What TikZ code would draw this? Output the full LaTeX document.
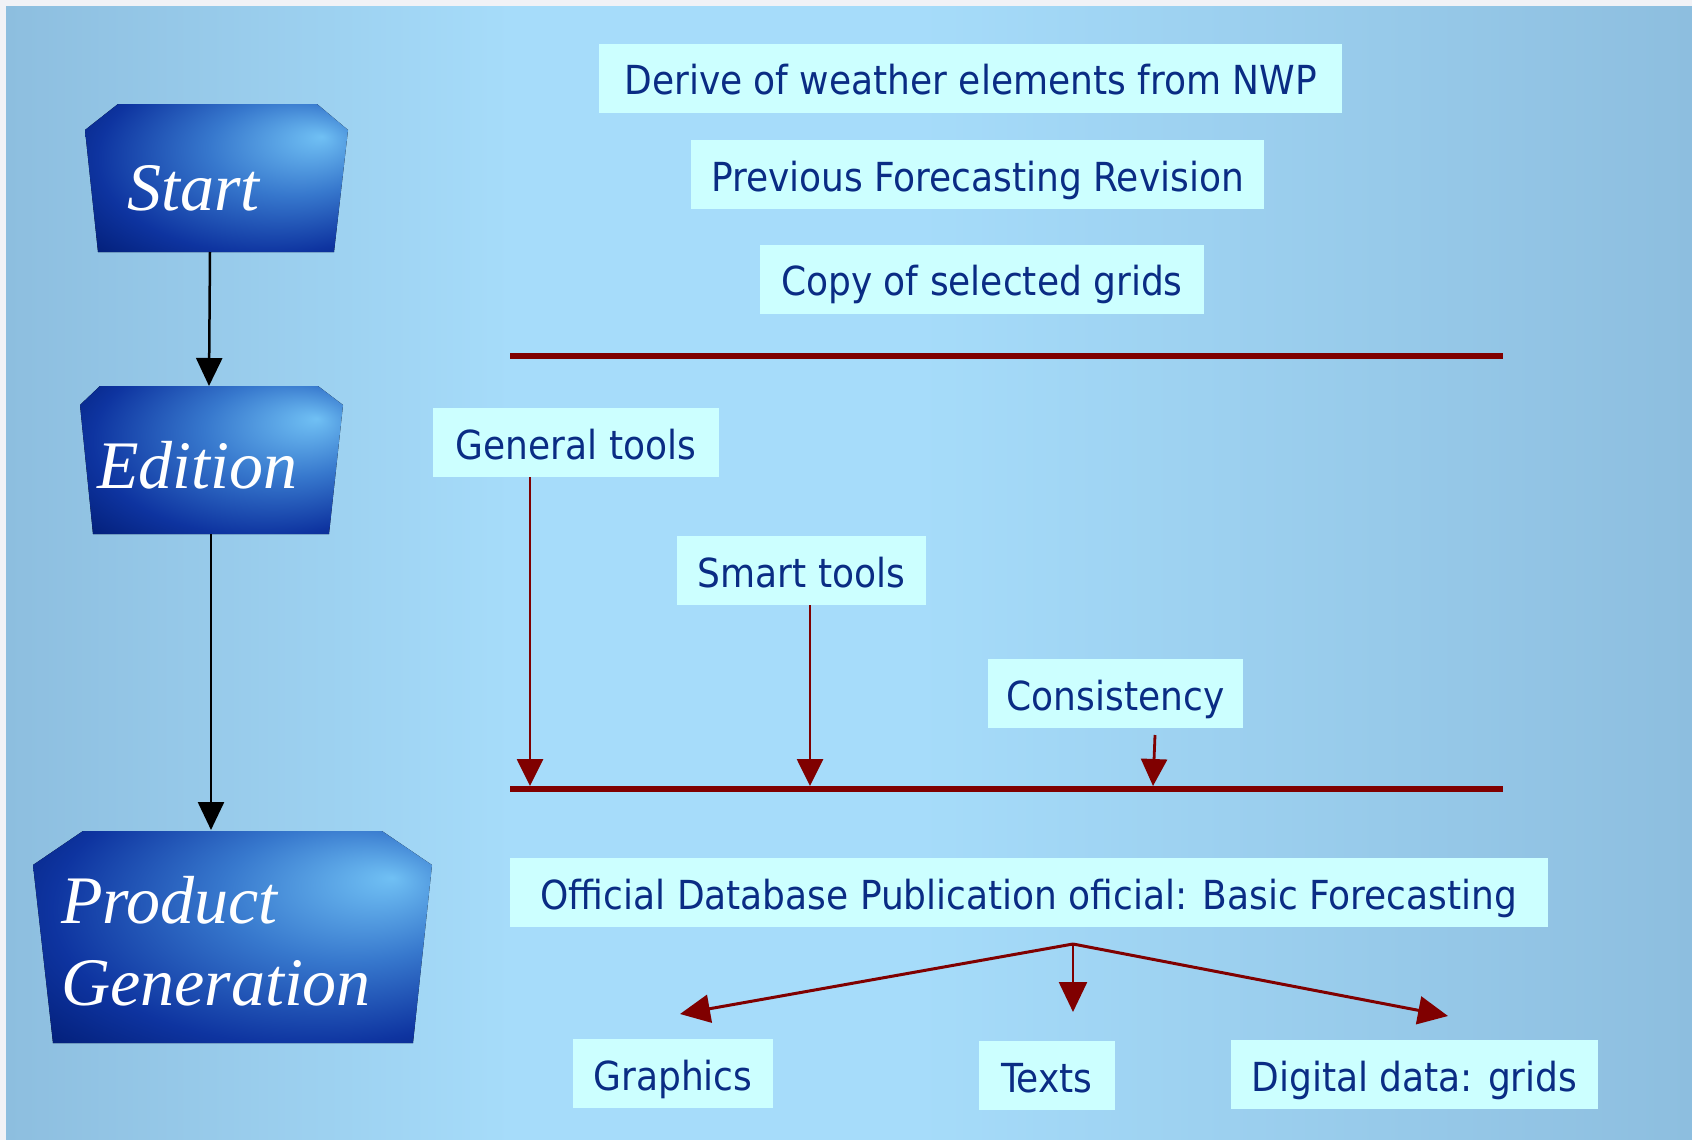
\documentclass[tikz,border=0pt]{standalone}
\usepackage{fontspec}
\setmainfont{Liberation Serif}
\newfontfamily\boxfont{DejaVu Sans Condensed}
\usetikzlibrary{arrows.meta}

\definecolor{bgedge}{RGB}{141,190,223}
\definecolor{bgmid}{RGB}{166,220,250}
\definecolor{stripgray}{RGB}{241,242,246}
\definecolor{boxcyan}{RGB}{204,255,255}
\definecolor{navytext}{RGB}{10,44,132}
\definecolor{barred}{RGB}{128,0,0}
\definecolor{glowhi}{RGB}{112,192,244}
\definecolor{glowmid}{RGB}{55,120,205}
\definecolor{blockdark}{RGB}{14,52,160}
\definecolor{blockdeep}{RGB}{0,26,112}

\pgfdeclarehorizontalshading{bgshade}{100bp}{color(0bp)=(bgedge); color(25bp)=(bgedge);
  color(40bp)=(bgmid); color(52bp)=(bgmid); color(75bp)=(bgedge); color(100bp)=(bgedge)}
\pgfdeclareradialshading{blockglow}{\pgfpoint{20bp}{14bp}}{color(0bp)=(glowhi);
  color(16bp)=(glowmid); color(32bp)=(blockdark); color(44bp)=(blockdeep); color(60bp)=(blockdeep)}

\begin{document}
\begin{tikzpicture}[x=1pt,y=-1pt,
  tbox/.style={fill=boxcyan,text=navytext,font=\boxfont\fontsize{40}{46}\selectfont,
    minimum height=69pt,inner sep=0pt,text height=36pt,text depth=3pt},
  blocktext/.style={text=white,font=\itshape\fontsize{68}{76}\selectfont,inner sep=0pt,anchor=base west},
  block/.style={shading=blockglow},
  bar/.style={barred,line width=6pt},
  redarrow/.style={barred,line width=2.8pt,-{Triangle[length=27pt,width=26pt]}},
  forkarrow/.style={barred,line width=3pt,-{Triangle[length=30pt,width=28pt]}},
  flow/.style={black,line width=2.5pt,-{Triangle[length=28pt,width=26pt]}}]
\useasboundingbox (0,0) rectangle (1692,1140);

% background
\shade[shading=bgshade] (6,6) rectangle (1692,1140);
\fill[stripgray] (0,0) rectangle (1692,6);
\fill[stripgray] (0,0) rectangle (6,1140);

% blocks on the left
\fill[block] (118,104)--(317,104)--(348,130)--(334,252)--(98,252)--(85,130)--cycle;
\fill[block] (100,386)--(318,386)--(343,405)--(329,534)--(93,534)--(80,405)--cycle;
\fill[block] (83,831)--(382,831)--(432,865)--(413,1043)--(53,1043)--(33,865)--cycle;

\node[blocktext] (start) at (127,210) {Start};
\node[blocktext] (edition) at (97,488) {Edition};
\node[blocktext] (product) at (61,923) {Product};
\node[blocktext] (generation) at (61,1005) {Generation};

\coordinate (start_b) at (210,252);
\coordinate (edit_t) at (209,386);
\coordinate (edit_b) at (211,534);
\coordinate (prod_t) at (211,830);

\draw[flow] (start_b)--(edit_t);
\draw[flow] (edit_b)--(prod_t);

% top boxes
\node[tbox,minimum width=743pt] (derive) at (970.5,78.5) {Derive of weather elements from NWP};
\node[tbox,minimum width=573pt] (previous) at (977.5,174.5) {Previous Forecasting Revision};
\node[tbox,minimum width=444pt] (copy) at (982,279) {Copy of selected grids};

\coordinate (bar1_l) at (510,356);
\coordinate (bar1_r) at (1503,356);
\draw[bar] (bar1_l)--(bar1_r);

% edition tools
\node[tbox,minimum width=286pt] (general) at (576,442.5) {General tools};
\node[tbox,minimum width=249pt] (smart) at (801.5,570.5) {Smart tools};
\node[tbox,minimum width=255pt] (consist) at (1115.5,693.5) {Consistency};

\coordinate (bar2_l) at (510,789);
\coordinate (bar2_r) at (1503,789);
\draw[bar] (bar2_l)--(bar2_r);

\coordinate (gen_e) at (530,786);
\coordinate (smart_e) at (810,786);
\coordinate (cons_s) at (1155,735);
\coordinate (cons_e) at (1153,786);
\draw[redarrow] (general.south -| gen_e)--(gen_e);
\draw[redarrow] (smart.south -| smart_e)--(smart_e);
\draw[redarrow] (cons_s)--(cons_e);

% products
\node[tbox,minimum width=1038pt] (official) at (1029,892.5) {Official Database Publication oficial: Basic Forecasting};
\node[tbox,minimum width=200pt] (graphics) at (673,1073.5) {Graphics};
\node[tbox,minimum width=136pt] (texts) at (1047,1075.5) {Texts};
\node[tbox,minimum width=367pt] (digital) at (1414.5,1074.5) {Digital data: grids};

\coordinate (fork) at (1073,944);
\coordinate (graph_e) at (680,1014);
\coordinate (texts_e) at (1073,1012);
\coordinate (digit_e) at (1448,1016);
\draw[forkarrow] (fork)--(graph_e);
\draw[forkarrow,line width=2.5pt] (fork)--(texts_e);
\draw[forkarrow] (fork)--(digit_e);
\end{tikzpicture}
\end{document}
